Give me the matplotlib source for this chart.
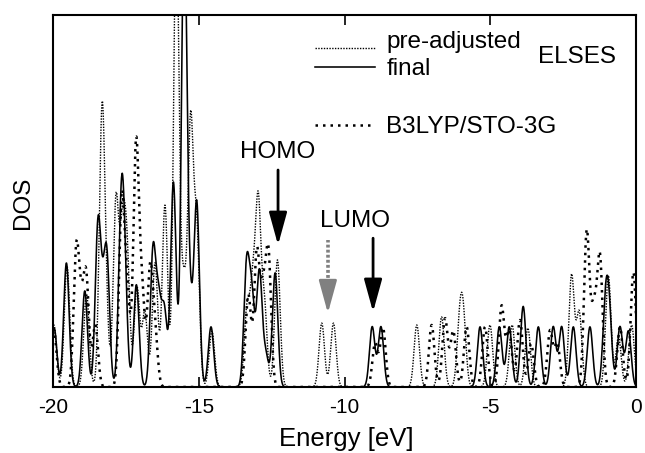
import numpy as np
import matplotlib
matplotlib.use("Agg")
import matplotlib.pyplot as plt

plt.rcParams["font.family"] = ["Liberation Sans", "DejaVu Sans"]

# peak energies [eV] and heights (DOS broadened with gaussians)
pre_E = [-19.97, -19.52, -18.85, -18.32, -18.18, -17.84, -17.62, -17.46, -17.12, -16.85,
         -16.5, -16.16, -15.77, -15.52, -15.28, -15.07, -14.55,
         -13.35, -13.15, -12.96, -12.75, -12.3,
         -10.78, -10.38, -7.52, -6.67, -6.05, -5.92, -5.01, -4.25, -3.71,
         -2.21, -1.95, -0.95, -0.6, -0.15]
pre_h = [1.0, 1.95, 1.5, 4.26, 1.0, 2.98, 2.3, 2.0, 1.6, 1.2,
         2.0, 2.93, 7.5, 1.6, 4.2, 2.5, 0.9,
         1.2, 1.5, 2.87, 1.3, 2.05,
         1.03, 1.03, 1.0, 1.13, 0.95, 1.0, 1.0, 1.0, 0.95,
         1.8, 1.2, 1.8, 0.8, 1.0]

fin_E = [-19.96, -19.54, -18.91, -18.46, -18.3, -18.15, -17.66, -17.54, -17.14, -16.57,
         -16.38, -16.18, -15.87, -15.5, -15.3, -15.07, -14.58,
         -13.36, -13.18, -12.92, -12.7, -12.38,
         -9.05, -8.75,
         -5.35, -4.69, -4.35, -3.87, -3.35, -2.84, -2.55, -2.15, -1.58,
         -1.05, -0.92, -0.55, -0.26]
fin_h = [0.95, 2.0, 1.55, 2.5, 1.0, 1.97, 2.64, 1.5, 1.65, 2.15,
         1.3, 1.2, 3.3, 7.5, 1.2, 2.96, 0.97,
         1.9, 1.4, 1.85, 0.5, 1.84,
         0.97, 0.97,
         0.97, 0.97, 0.97, 1.3, 0.97, 0.97, 0.97, 0.97, 0.97,
         1.2, 1.1, 0.97, 0.9]

b3_E = [-19.97, -19.2, -19.03, -18.86, -18.55, -17.64, -17.45, -17.15, -16.95, -16.67, -16.5,
        -13.3, -13.01, -12.8, -12.61,
        -8.95, -8.68, -7.01, -6.55, -6.27, -5.81, -5.18, -4.61, -4.35, -3.98, -3.6,
        -2.95, -2.7, -1.69, -1.45, -1.24, -0.55, -0.09]
b3_h = [0.9, 2.15, 1.0, 1.7, 1.0, 2.98, 1.4, 3.87, 1.5, 1.84, 0.8,
        1.48, 2.13, 1.4, 2.1,
        0.7, 0.95, 1.0, 1.1, 0.9, 0.97, 0.97, 1.3, 0.9, 1.08, 0.7,
        0.9, 0.7, 2.5, 1.2, 2.08, 0.97, 1.85]

x_ticks = [-20, -15, -10, -5, 0]
sigma = 0.093


def dos(E, h, x):
    y = np.zeros_like(x)
    for e, a in zip(E, h):
        y += a * np.exp(-(x - e) ** 2 / (2 * sigma ** 2))
    return y


x = np.linspace(-20, 0, 4001)

fig = plt.figure(figsize=(6.45, 4.53), dpi=100)
ax = fig.add_axes([53 / 645, 66 / 453, 583 / 645, 372 / 453])

ax.plot(x, dos(pre_E, pre_h, x), color="black", lw=1.0, dashes=(1, 1))
ax.plot(x, dos(fin_E, fin_h, x), color="black", lw=1.15)
ax.plot(x, dos(b3_E, b3_h, x), color="black", lw=1.8, dashes=(1, 2))

ax.set_xlim(-20, 0)
ax.set_ylim(0, 6.0)
ax.set_xticks(x_ticks)
ax.set_xticklabels([str(t) for t in x_ticks])
ax.set_yticks([])
ax.tick_params(axis="x", direction="in", top=True, length=7, width=1.2,
               labelsize=15, pad=8)
for s in ax.spines.values():
    s.set_linewidth(1.5)

# legend drawn by hand
tr = ax.transAxes
ax.plot([0.449, 0.552], [0.911, 0.911], transform=tr, color="black", lw=1.0, dashes=(1, 1))
ax.plot([0.449, 0.552], [0.860, 0.860], transform=tr, color="black", lw=1.15)
ax.plot([0.449, 0.552], [0.704, 0.704], transform=tr, color="black", lw=1.8, dashes=(1, 2))
ax.text(0.572, 0.910, "pre-adjusted", transform=tr, fontsize=17.5)
ax.text(0.572, 0.839, "final", transform=tr, fontsize=17.5)
ax.text(0.832, 0.871, "ELSES", transform=tr, fontsize=17.5)
ax.text(0.572, 0.683, "B3LYP/STO-3G", transform=tr, fontsize=17.5)

ax.text(-12.28, 3.69, "HOMO", ha="center", fontsize=17.5)
ax.text(-9.64, 2.58, "LUMO", ha="center", fontsize=17.5)

head = dict(arrowstyle="-|>,head_length=2.0,head_width=0.55", lw=2,
            shrinkA=0, shrinkB=0)
ax.annotate("", xy=(-12.28, 2.29), xytext=(-12.28, 3.5),
            arrowprops=dict(head, color="black"))
ax.plot([-10.57, -10.57], [1.6, 2.37], color="#808080", lw=2.6, dashes=(0.8, 0.6))
ax.annotate("", xy=(-10.57, 1.19), xytext=(-10.57, 1.65),
            arrowprops=dict(head, color="#808080"))
ax.annotate("", xy=(-9.02, 1.21), xytext=(-9.02, 2.4),
            arrowprops=dict(head, color="black"))

fig.text(23 / 645, 1 - 203 / 453, "DOS", rotation=90, ha="center", va="center", fontsize=17.5)
fig.text(346 / 645, 1 - 446 / 453, "Energy [eV]", ha="center", va="baseline", fontsize=18.5)

fig.savefig("out.png", dpi=100)
